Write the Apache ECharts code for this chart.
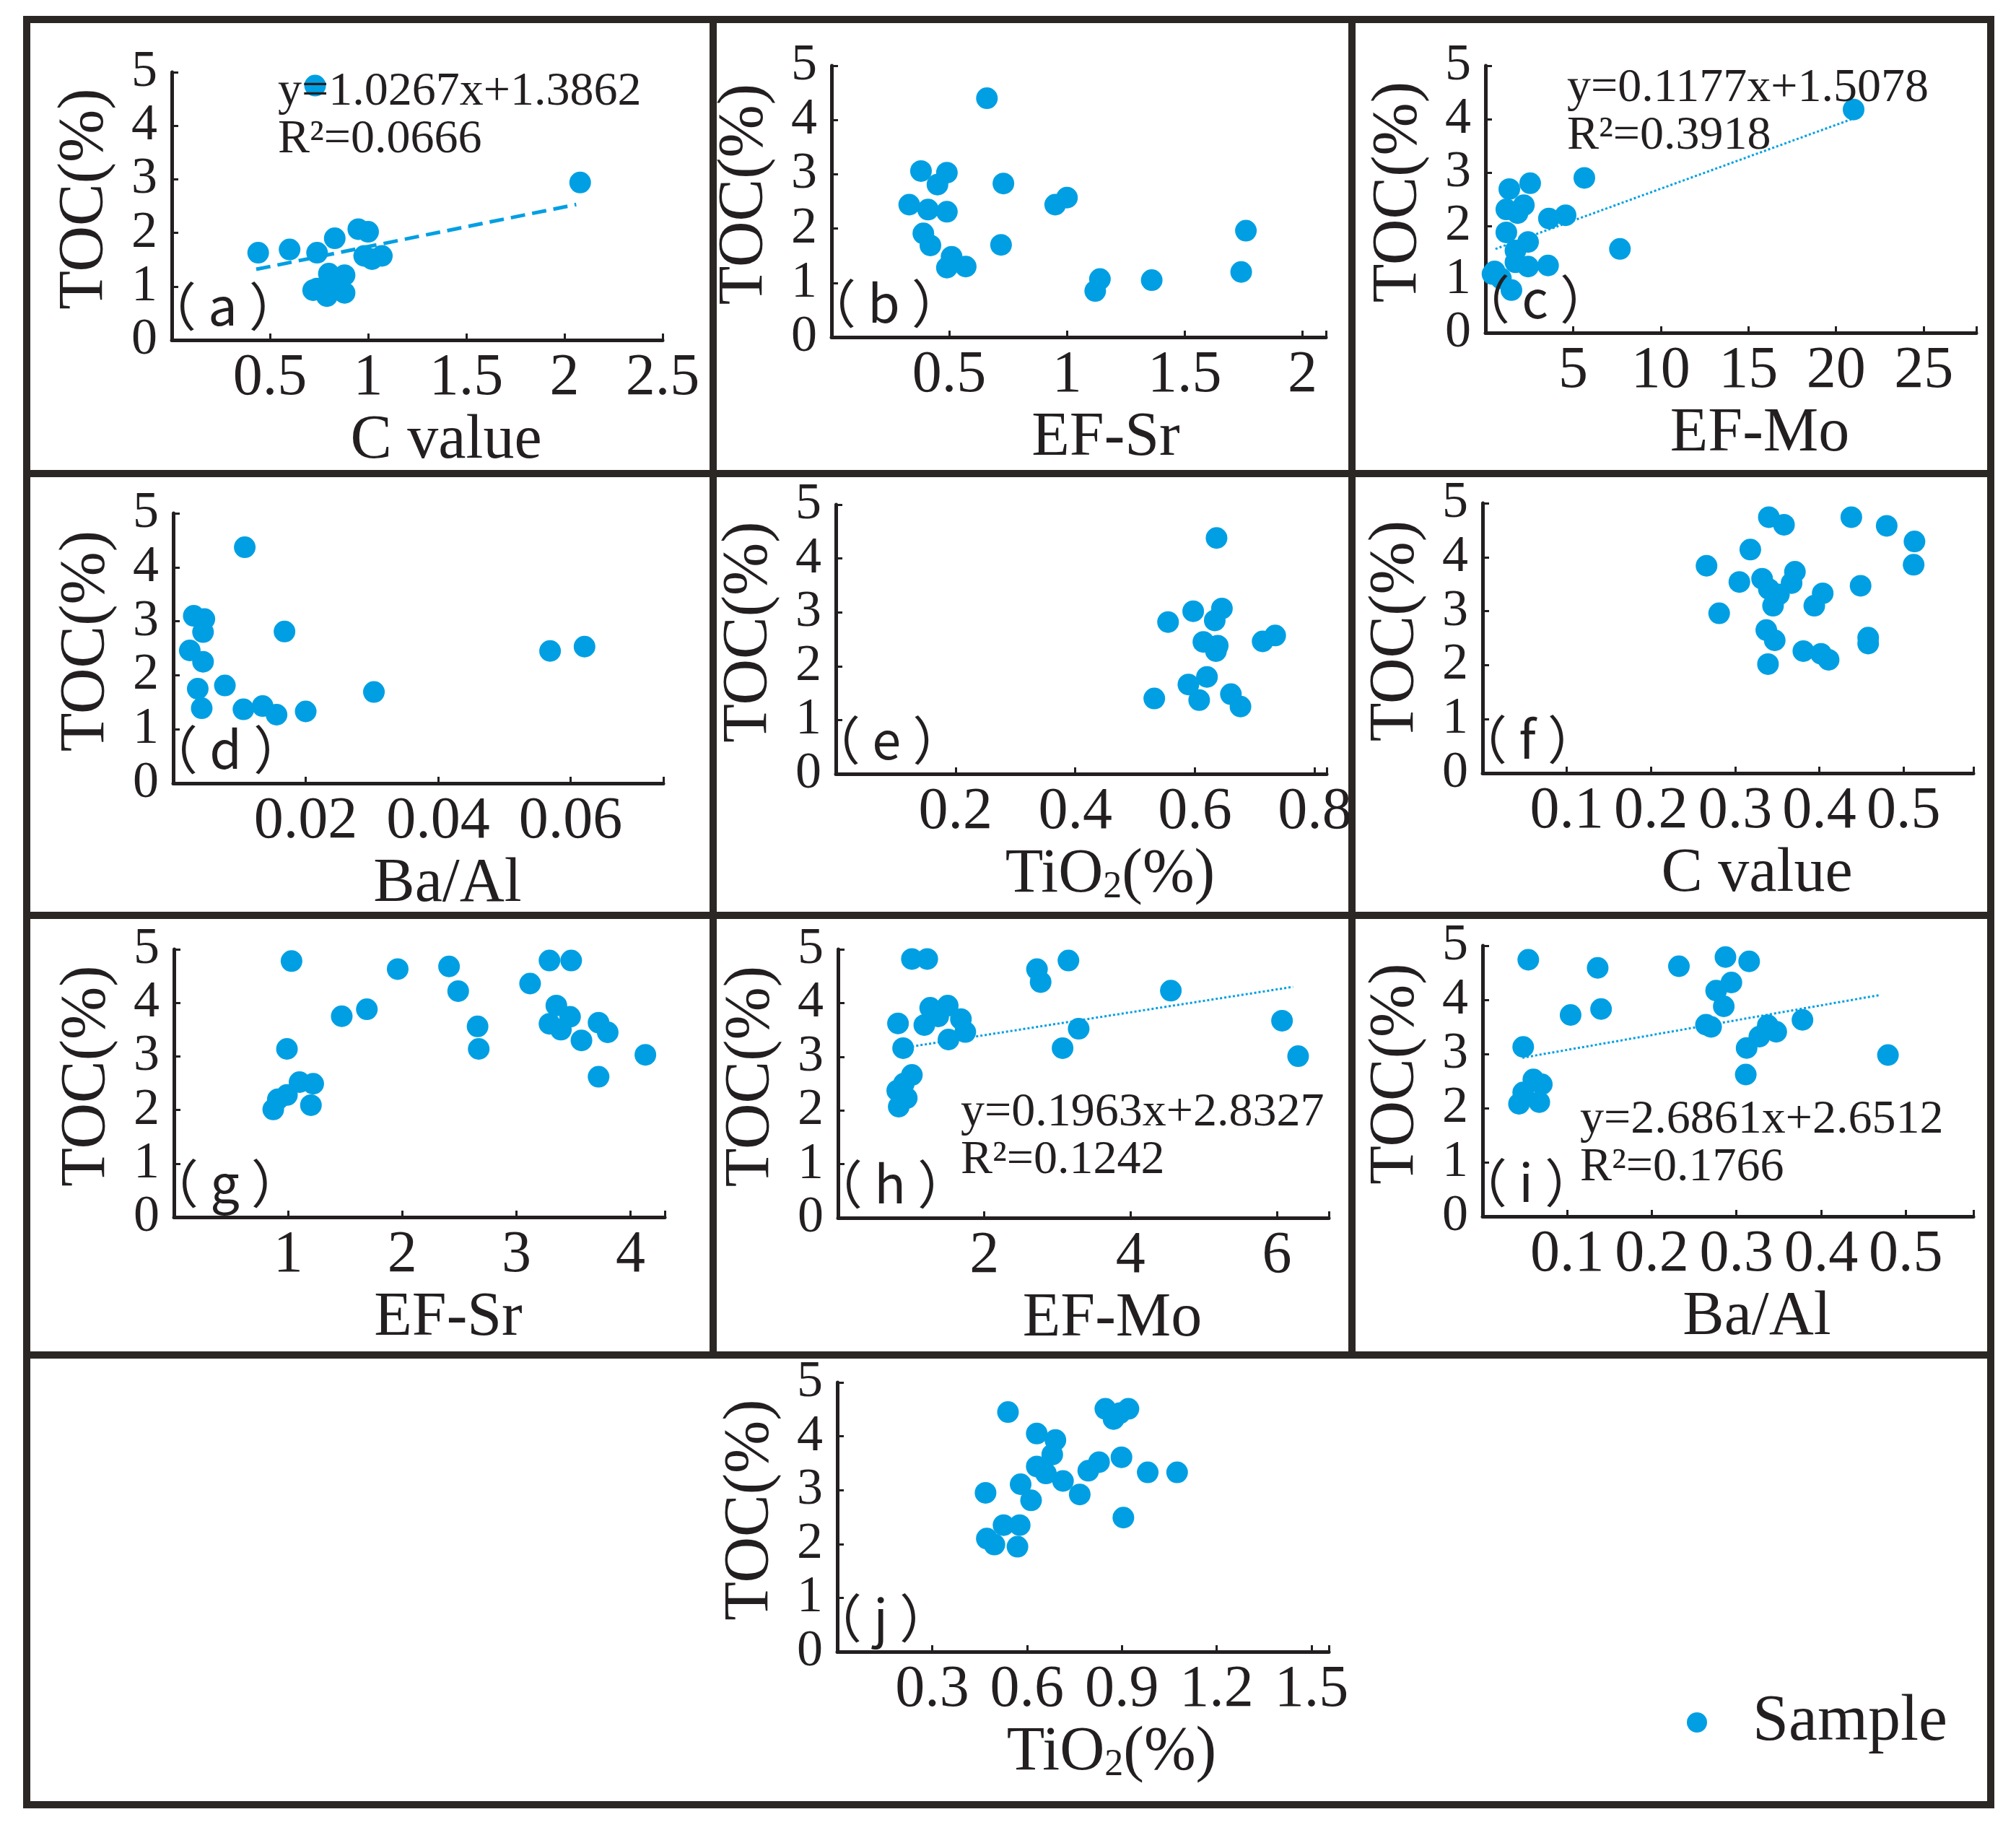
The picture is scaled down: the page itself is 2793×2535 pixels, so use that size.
<!DOCTYPE html>
<html>
<head>
<meta charset="utf-8">
<script src="https://cdn.jsdelivr.net/npm/echarts@6/dist/echarts.min.js"></script>
<style>
html, body { margin: 0; padding: 0; background: #fff; }
#chart { width: 2793px; height: 2535px; }
</style>
</head>
<body>
<div id="chart"></div>
<script>
// values, one pair of arrays per panel
const aX = [0.73, 2.08, 0.44, 0.60, 0.74, 0.83, 0.95, 1.00, 0.98, 1.02, 1.07, 0.80, 0.88, 0.74, 0.79, 0.88, 0.83, 0.72]
const aY = [4.75, 2.94, 1.63, 1.69, 1.63, 1.90, 2.07, 2.02, 1.57, 1.51, 1.57, 1.24, 1.21, 0.96, 0.82, 0.88, 1.02, 0.93]

const bX = [0.66, 0.38, 0.49, 0.45, 0.73, 0.33, 0.41, 0.49, 0.95, 1.00, 0.39, 0.42, 0.72, 0.51, 0.49, 0.57, 1.14, 1.12, 1.36, 1.74, 1.76]
const bY = [4.40, 3.06, 3.03, 2.81, 2.83, 2.44, 2.35, 2.31, 2.44, 2.57, 1.91, 1.69, 1.70, 1.48, 1.28, 1.30, 1.07, 0.85, 1.05, 1.20, 1.96]

const cX = [21.0, 5.64, 1.36, 2.55, 1.19, 2.19, 1.83, 3.62, 4.57, 1.19, 2.43, 1.71, 7.67, 2.43, 3.57, 1.71, 0.52, 0.88, 1.48, 0.40]
const cY = [4.18, 2.90, 2.69, 2.80, 2.31, 2.39, 2.24, 2.14, 2.20, 1.88, 1.70, 1.54, 1.57, 1.24, 1.26, 1.32, 1.15, 1.02, 0.80, 1.10]

const dX = [0.0108, 0.0031, 0.0047, 0.0045, 0.0168, 0.0025, 0.0045, 0.0078, 0.0037, 0.0043, 0.0106, 0.0135, 0.0156, 0.0200, 0.0303, 0.0569, 0.0621]
const dY = [4.37, 3.10, 3.04, 2.80, 2.81, 2.46, 2.25, 1.81, 1.75, 1.39, 1.37, 1.43, 1.27, 1.33, 1.69, 2.45, 2.53]

const eX = [0.636, 0.555, 0.597, 0.645, 0.633, 0.614, 0.638, 0.635, 0.713, 0.734, 0.620, 0.589, 0.532, 0.607, 0.660, 0.676]
const eY = [4.38, 2.82, 3.02, 3.07, 2.85, 2.45, 2.38, 2.28, 2.46, 2.57, 1.80, 1.66, 1.40, 1.37, 1.48, 1.25]

const fX = [0.340, 0.358, 0.438, 0.480, 0.513, 0.512, 0.318, 0.266, 0.305, 0.332, 0.371, 0.367, 0.340, 0.352, 0.345, 0.404, 0.394, 0.449, 0.281, 0.337, 0.347, 0.381, 0.402, 0.411, 0.339, 0.458, 0.458]
const fY = [4.74, 4.60, 4.74, 4.58, 4.29, 3.86, 4.14, 3.84, 3.54, 3.60, 3.73, 3.52, 3.41, 3.31, 3.10, 3.33, 3.10, 3.47, 2.96, 2.65, 2.46, 2.26, 2.21, 2.10, 2.02, 2.51, 2.40]

const gX = [1.03, 1.96, 2.41, 2.49, 3.12, 3.29, 3.48, 1.47, 1.69, 2.66, 2.67, 0.99, 3.35, 3.47, 3.29, 3.39, 3.57, 3.72, 3.80, 4.13, 3.72, 1.10, 1.22, 0.99, 0.91, 0.87, 1.20]
const gY = [4.78, 4.63, 4.68, 4.22, 4.36, 4.79, 4.79, 3.75, 3.88, 3.56, 3.14, 3.14, 3.95, 3.74, 3.61, 3.50, 3.30, 3.63, 3.45, 3.03, 2.62, 2.52, 2.49, 2.28, 2.20, 2.01, 2.09]

const hX = [1.01, 1.22, 3.15, 2.72, 2.77, 4.55, 1.26, 1.50, 1.37, 1.18, 1.68, 1.74, 1.51, 0.82, 0.89, 3.29, 3.07, 6.07, 6.29, 1.01, 0.90, 0.81, 0.94, 0.83]
const hY = [4.82, 4.82, 4.79, 4.63, 4.39, 4.23, 3.91, 3.95, 3.75, 3.59, 3.70, 3.46, 3.32, 3.62, 3.16, 3.52, 3.16, 3.67, 3.01, 2.66, 2.50, 2.37, 2.23, 2.07]

const iX = [0.054, 0.136, 0.232, 0.287, 0.315, 0.294, 0.276, 0.285, 0.104, 0.140, 0.264, 0.270, 0.337, 0.347, 0.327, 0.312, 0.378, 0.048, 0.479, 0.311, 0.060, 0.070, 0.048, 0.043, 0.067]
const iY = [4.74, 4.59, 4.62, 4.79, 4.71, 4.32, 4.17, 3.88, 3.72, 3.83, 3.54, 3.50, 3.53, 3.41, 3.32, 3.11, 3.63, 3.13, 2.98, 2.62, 2.53, 2.44, 2.29, 2.08, 2.11]

const jX = [0.540, 0.848, 0.921, 0.874, 0.894, 0.631, 0.690, 0.680, 0.828, 0.794, 0.899, 0.982, 1.075, 0.631, 0.660, 0.714, 0.767, 0.580, 0.613, 0.469, 0.905, 0.526, 0.577, 0.473, 0.497, 0.570]
const jY = [4.45, 4.51, 4.51, 4.32, 4.43, 4.05, 3.93, 3.66, 3.52, 3.36, 3.61, 3.33, 3.33, 3.44, 3.31, 3.17, 2.92, 3.11, 2.81, 2.95, 2.49, 2.35, 2.35, 2.10, 1.99, 1.95]

// fitted lines as drawn: [x start, y start, x end, y end]
const aTrend = [0.43, 1.32, 2.06, 2.53]
const cTrend = [0.57, 1.57, 20.9, 4.00]
const hTrend = [1.01, 3.19, 6.22, 4.30]
const iTrend = [0.047, 2.93, 0.470, 4.09]

const aEq = ["y=1.0267x+1.3862", "R²=0.0666"]
const cEq = ["y=0.1177x+1.5078", "R²=0.3918"]
const hEq = ["y=0.1963x+2.8327", "R²=0.1242"]
const iEq = ["y=2.6861x+2.6512", "R²=0.1766"]

// tick labels
const yTicks = [0, 1, 2, 3, 4, 5]
const aTicks = [0.5, 1, 1.5, 2, 2.5]
const bTicks = [0.5, 1, 1.5, 2]
const cTicks = [5, 10, 15, 20, 25]
const dTicks = [0.02, 0.04, 0.06]
const eTicks = [0.2, 0.4, 0.6, 0.8]
const fTicks = [0.1, 0.2, 0.3, 0.4, 0.5]
const gTicks = [1, 2, 3, 4]
const hTicks = [2, 4, 6]
const iTicks = [0.1, 0.2, 0.3, 0.4, 0.5]
const jTicks = [0.3, 0.6, 0.9, 1.2, 1.5]

const tags = ["a", "b", "c", "d", "e", "f", "g", "h", "i", "j"]
const xNames = ["C value", "EF-Sr", "EF-Mo", "Ba/Al", "TiO{sub|2}(%)", "C value", "EF-Sr", "EF-Mo", "Ba/Al", "TiO{sub|2}(%)"]
const yName = "TOC(%)"
const seriesName = "Sample"

const FONT = "Liberation Serif"
const CJK = "Noto Sans CJK SC"
const BLUE = "#009fe3"
const INK = "#231f20"
const FRAME = "#2b2725"

// plot boxes in page pixels, xMax is where each x axis line stops
const panels = [
  { left: 238, top: 100, width: 680, height: 371, xMax: 2.5, x: aX, y: aY, ticks: aTicks, trend: aTrend, eq: aEq, eqAt: [385, 128], dash: "dashed", lw: 5 },
  { left: 1152, top: 91, width: 685, height: 376, xMax: 2.1, x: bX, y: bY, ticks: bTicks },
  { left: 2058, top: 91, width: 680, height: 370, xMax: 28, x: cX, y: cY, ticks: cTicks, trend: cTrend, eq: cEq, eqAt: [2171, 123], dash: "dotted", lw: 3 },
  { left: 240, top: 711, width: 679, height: 374, xMax: 0.074, x: dX, y: dY, ticks: dTicks },
  { left: 1158, top: 699, width: 680, height: 373, xMax: 0.82, x: eX, y: eY, ticks: eTicks },
  { left: 2054, top: 697, width: 680, height: 374, xMax: 0.583, x: fX, y: fY, ticks: fTicks },
  { left: 241, top: 1315, width: 680, height: 371, xMax: 4.3, x: gX, y: gY, ticks: gTicks },
  { left: 1161, top: 1315, width: 680, height: 372, xMax: 6.71, x: hX, y: hY, ticks: hTicks, trend: hTrend, eq: hEq, eqAt: [1331, 1542], dash: "dotted", lw: 3 },
  { left: 2054, top: 1310, width: 680, height: 375, xMax: 0.58, x: iX, y: iY, ticks: iTicks, trend: iTrend, eq: iEq, eqAt: [2189, 1552], dash: "dotted", lw: 3 },
  { left: 1160, top: 1915, width: 681, height: 373, xMax: 1.555, x: jX, y: jY, ticks: jTicks },
]

const onTick = (v, ticks) => ticks.some(t => Math.abs(t - v) < 1e-9)

const grid = panels.map(p => ({
  left: p.left,
  top: p.top,
  width: p.width,
  height: p.height,
  outerBoundsMode: "none",
}))

const axisLine = { show: true, onZero: false, lineStyle: { color: INK, width: 5 } }
const axisTick = { show: true, inside: true, length: 9, lineStyle: { color: INK, width: 3 } }

const xAxis = panels.map((p, i) => ({
  gridIndex: i,
  type: "value",
  min: 0,
  max: p.xMax,
  interval: p.ticks[1] - p.ticks[0],
  axisLine,
  axisTick,
  splitLine: { show: false },
  axisLabel: {
    margin: 12,
    fontFamily: FONT,
    fontSize: 82,
    color: INK,
    formatter: v => (onTick(v, p.ticks) ? String(+v.toFixed(4)) : ""),
  },
}))

const yAxis = panels.map((p, i) => ({
  gridIndex: i,
  type: "value",
  min: yTicks[0],
  max: yTicks[yTicks.length - 1],
  interval: yTicks[1] - yTicks[0],
  axisLine,
  axisTick,
  splitLine: { show: false },
  axisLabel: {
    margin: 20,
    fontFamily: FONT,
    fontSize: 72,
    color: INK,
    showMinLabel: true,
    showMaxLabel: true,
    formatter: v => (onTick(v, yTicks) ? String(v) : ""),
  },
}))

const series = []
panels.forEach((p, i) => {
  series.push({
    name: seriesName,
    type: "scatter",
    xAxisIndex: i,
    yAxisIndex: i,
    symbolSize: 30,
    itemStyle: { color: BLUE, opacity: 1 },
    data: p.x.map((x, k) => [x, p.y[k]]),
    z: 3,
  })
  if (p.trend) {
    series.push({
      name: "trend",
      type: "line",
      xAxisIndex: i,
      yAxisIndex: i,
      symbol: "none",
      silent: true,
      lineStyle: { color: BLUE, width: p.lw, type: p.dash },
      data: [
        [p.trend[0], p.trend[1]],
        [p.trend[2], p.trend[3]],
      ],
      z: 2,
    })
  }
})

const text = (x, y, str, size, extra) => ({
  type: "text",
  x,
  y,
  z: 10,
  silent: true,
  ...extra,
  style: {
    text: str,
    fontFamily: FONT,
    fontSize: size,
    fill: INK,
    align: "left",
    verticalAlign: "middle",
    textAlign: "left",
    textVerticalAlign: "middle",
    ...(extra && extra.style),
  },
})

const graphic = [
  { type: "rect", z: 0, silent: true, shape: { x: 37, y: 27, width: 2721, height: 2473 }, style: { fill: "none", stroke: FRAME, lineWidth: 10 } },
  { type: "line", z: 0, silent: true, shape: { x1: 37, y1: 656, x2: 2758, y2: 656 }, style: { stroke: FRAME, lineWidth: 10 } },
  { type: "line", z: 0, silent: true, shape: { x1: 37, y1: 1268, x2: 2758, y2: 1268 }, style: { stroke: FRAME, lineWidth: 10 } },
  { type: "line", z: 0, silent: true, shape: { x1: 37, y1: 1877, x2: 2758, y2: 1877 }, style: { stroke: FRAME, lineWidth: 10 } },
  { type: "line", z: 0, silent: true, shape: { x1: 988, y1: 27, x2: 988, y2: 1877 }, style: { stroke: FRAME, lineWidth: 10 } },
  { type: "line", z: 0, silent: true, shape: { x1: 1873, y1: 27, x2: 1873, y2: 1877 }, style: { stroke: FRAME, lineWidth: 10 } },
]

panels.forEach((p, i) => {
  const bottom = p.top + p.height
  // panel tag
  graphic.push(text(p.left - 38, bottom - 47, "（ " + tags[i] + " ）", 72, { style: { fontFamily: CJK } }))
  // y axis title
  graphic.push(
    text(p.left - 120, p.top + p.height / 2 - 10, yName, 88, {
      rotation: Math.PI / 2,
      style: { align: "center", textAlign: "center" },
    })
  )
  // x axis title
  graphic.push(
    text(p.left + 380, bottom + 140, xNames[i], 86, {
      style: {
        align: "center",
        textAlign: "center",
        rich: { sub: { fontFamily: FONT, fontSize: 52, lineHeight: 36, verticalAlign: "bottom", fill: INK } },
      },
    })
  )
  if (p.eq) {
    graphic.push(text(p.eqAt[0], p.eqAt[1], p.eq[0], 66))
    graphic.push(text(p.eqAt[0], p.eqAt[1] + 66, p.eq[1], 66))
  }
})

const chart = echarts.init(document.getElementById("chart"))
chart.setOption({
  animation: false,
  backgroundColor: "#fff",
  grid,
  xAxis,
  yAxis,
  series,
  graphic,
  legend: {
    data: [{ name: seriesName, icon: "circle" }],
    left: 2332,
    top: 2335,
    itemWidth: 144,
    itemHeight: 28,
    symbolKeepAspect: true,
    selectedMode: false,
    textStyle: { fontFamily: FONT, fontSize: 90, color: INK, lineHeight: 92 },
  },
})
</script>
</body>
</html>
